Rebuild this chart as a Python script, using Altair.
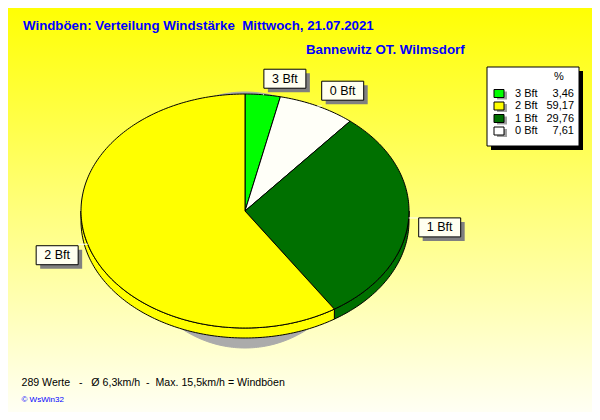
import re
import altair as alt
import pandas as pd
import numpy as np

# ---------------- data ----------------
slice_labels = ["3 Bft", "0 Bft", "1 Bft", "2 Bft"]          # clockwise from 12 o'clock
slice_pct = [3.46, 7.61, 29.76, 59.17]
slice_colors = ["#00FF00", "#FFFFF8", "#007000", "#FFFF00"]
legend_labels = ["3 Bft", "2 Bft", "1 Bft", "0 Bft"]
legend_values = ["3,46", "59,17", "29,76", "7,61"]
legend_colors = ["#00FF00", "#FFFF00", "#007000", "#FFFFFF"]
title_text = "Windböen: Verteilung Windstärke  Mittwoch, 21.07.2021"
subtitle_text = "Bannewitz OT. Wilmsdorf"
footer_text = "289 Werte   -   Ø 6,3km/h  -  Max. 15,5km/h = Windböen"
credit_text = "© WsWin32"

# ---------------- layout ----------------
OFF = 8                    # page margin
W, H = 600 - 2 * OFF, 420 - 2 * OFF
CX, CY, RX, RY, DEPTH = 245, 211, 164, 117, 10
SHX, SHY, SHRX, SHRY = 245, 220, 120, 128
FONT = "Liberation Sans"

XS = alt.Scale(domain=[OFF, OFF + W], nice=False, zero=False)
YS = alt.Scale(domain=[OFF, OFF + H], nice=False, zero=False, reverse=True)


def keep_spaces(t):
    return re.sub(r" (?= )", "\u00a0", t)


def PX(f):
    return alt.X(f"{f}:Q", scale=XS, axis=None)


def PY(f):
    return alt.Y(f"{f}:Q", scale=YS, axis=None)


def ept(t_deg, dy=0.0, cx=CX, cy=CY, rx=RX, ry=RY):
    t = np.radians(t_deg)
    return cx + rx * np.sin(t), cy - ry * np.cos(t) + dy


def arc(a, b, dy=0.0, **kw):
    n = max(int(np.ceil(abs(b - a))) + 1, 2)
    return [ept(t, dy, **kw) for t in np.linspace(a, b, n)]


rows = []
shapes = []  # (id, fill)


def add_poly(sid, pts, fill):
    shapes.append((sid, fill))
    for i, (x, y) in enumerate(pts):
        rows.append({"shape": sid, "i": i, "x": float(x), "y": float(y)})


bounds = np.concatenate([[0.0], np.cumsum(slice_pct)]) / np.sum(slice_pct) * 360.0

# shadow
add_poly("shadow", arc(0, 360, cx=SHX, cy=SHY, rx=SHRX, ry=SHRY), "#ABABAB")

# front sides
for k in range(len(slice_pct)):
    a, b = max(bounds[k], 90.0), min(bounds[k + 1], 270.0)
    if a < b:
        top = arc(a, b)
        bot = arc(b, a, dy=DEPTH)
        add_poly(f"side{k}", top + bot + [top[0]], slice_colors[k])

# top faces
for k in range(len(slice_pct)):
    pts = [(CX, CY)] + arc(bounds[k], bounds[k + 1]) + [(CX, CY)]
    add_poly(f"top{k}", pts, slice_colors[k])

poly = pd.DataFrame(rows)

layers = []
# background gradient
layers.append(
    alt.Chart(pd.DataFrame({"a": [0]})).mark_rect(
        color=alt.LinearGradient(
            gradient="linear", x1=0, x2=0, y1=0, y2=1,
            stops=[alt.GradientStop(color="#FFFF04", offset=0),
                   alt.GradientStop(color="#FFFFF4", offset=1)],
        )
    ).encode(x=alt.value(0), x2=alt.value(W), y=alt.value(0), y2=alt.value(H))
)

for sid, fill in shapes:
    stroke = fill if sid == "shadow" else "black"
    layers.append(
        alt.Chart(poly).transform_filter(alt.datum.shape == sid)
        .mark_line(fill=fill, stroke=stroke, strokeWidth=1, interpolate="linear")
        .encode(x=PX("x"), y=PY("y"), order="i:Q")
    )

# slice labels (placed from slice mid-angles)
mids = (bounds[:-1] + bounds[1:]) / 2
lab = []
for k, m in enumerate(mids):
    s, c = np.sin(np.radians(m)), np.cos(np.radians(m))
    px, py = ept(m)
    lx = CX + (RX + 10) * s + np.sign(s) * 21
    ly = CY - (RY + 7) * c - np.sign(c) * 9
    edge = lx - np.sign(s) * 21
    lab.append({"label": slice_labels[k], "cx": lx, "cy": ly,
                "x": lx - 21, "x2": lx + 21, "y": ly - 9.5, "y2": ly + 9.5,
                "sx": lx - 17, "sx2": lx + 25, "sy": ly - 5.5, "sy2": ly + 13.5,
                "px": px, "py": py, "ex": edge})
lab = pd.DataFrame(lab)

layers.append(
    alt.Chart(lab).mark_rule(color="white", strokeWidth=1)
    .encode(x=PX("px"), y=PY("py"), x2="ex:Q", y2="py:Q")
)
layers.append(
    alt.Chart(lab).mark_rect(color="#808080")
    .encode(x=PX("sx"), x2="sx2:Q", y=PY("sy"), y2="sy2:Q")
)
layers.append(
    alt.Chart(lab).mark_rect(fill="#FFFFF0", stroke="black", strokeWidth=1)
    .encode(x=PX("x"), x2="x2:Q", y=PY("y"), y2="y2:Q")
)
layers.append(
    alt.Chart(lab).mark_text(font=FONT, fontSize=12.5, color="black", align="center", baseline="middle")
    .encode(x=PX("cx"), y=PY("cy"), text="label:N")
)

# legend
LBX, LBY, LBX2, LBY2 = 487, 67, 579, 146
box = pd.DataFrame({"x": [LBX], "x2": [LBX2], "y": [LBY], "y2": [LBY2],
                    "sx": [LBX + 4], "sx2": [LBX2 + 4], "sy": [LBY + 4], "sy2": [LBY2 + 4]})
layers.append(
    alt.Chart(box).mark_rect(color="black")
    .encode(x=PX("sx"), x2="sx2:Q", y=PY("sy"), y2="sy2:Q")
)
layers.append(
    alt.Chart(box).mark_rect(fill="white", stroke="black", strokeWidth=1)
    .encode(x=PX("x"), x2="x2:Q", y=PY("y"), y2="y2:Q")
)
leg = pd.DataFrame({
    "label": legend_labels, "value": legend_values, "color": legend_colors,
    "row": list(range(len(legend_labels))),
})
leg["ry"] = 93.5 + 12.5 * leg["row"]
leg["x"], leg["x2"] = 494, 504
leg["y"], leg["y2"] = leg["ry"] - 4, leg["ry"] + 4
leg["sx"], leg["sx2"] = 497, 507
leg["sy"], leg["sy2"] = leg["ry"] - 2, leg["ry"] + 6
leg["tx"], leg["vx"] = 515, 574

layers.append(
    alt.Chart(leg).mark_rect(color="#A0A0A0")
    .encode(x=PX("sx"), x2="sx2:Q", y=PY("sy"), y2="sy2:Q")
)
layers.append(
    alt.Chart(leg).mark_rect(stroke="black", strokeWidth=1)
    .encode(x=PX("x"), x2="x2:Q", y=PY("y"), y2="y2:Q", fill=alt.Fill("color:N", scale=None))
)
layers.append(
    alt.Chart(leg).mark_text(font=FONT, fontSize=11, color="black", align="left", baseline="middle")
    .encode(x=PX("tx"), y=PY("ry"), text="label:N")
)
layers.append(
    alt.Chart(leg).mark_text(font=FONT, fontSize=11, color="black", align="right", baseline="middle")
    .encode(x=PX("vx"), y=PY("ry"), text="value:N")
)

# texts
texts = [
    {"x": 23, "y": 30, "t": title_text, "size": 13.3, "w": "bold", "c": "#0000FF"},
    {"x": 306, "y": 54, "t": subtitle_text, "size": 13.3, "w": "bold", "c": "#0000FF"},
    {"x": 21.5, "y": 386, "t": footer_text, "size": 10.6, "w": "normal", "c": "black"},
    {"x": 21.5, "y": 402, "t": credit_text, "size": 8, "w": "normal", "c": "#0000FF"},
]
for r in texts:
    layers.append(
        alt.Chart(pd.DataFrame({"x": [r["x"]], "y": [r["y"]], "t": [keep_spaces(r["t"])]})).mark_text(
            font=FONT, fontSize=r["size"], fontWeight=r["w"], color=r["c"],
            align="left", baseline="alphabetic")
        .encode(x=PX("x"), y=PY("y"), text="t:N")
    )
layers.append(
    alt.Chart(pd.DataFrame({"x": [559], "y": [77], "t": ["%"]}))
    .mark_text(font=FONT, fontSize=11, color="black", align="center", baseline="middle")
    .encode(x=PX("x"), y=PY("y"), text="t:N")
)

chart = alt.layer(*layers).properties(
    width=W, height=H, padding=0, autosize="none"
).configure_view(stroke=None)

chart.save("out.html", embed_options={"renderer": "svg", "actions": False})
